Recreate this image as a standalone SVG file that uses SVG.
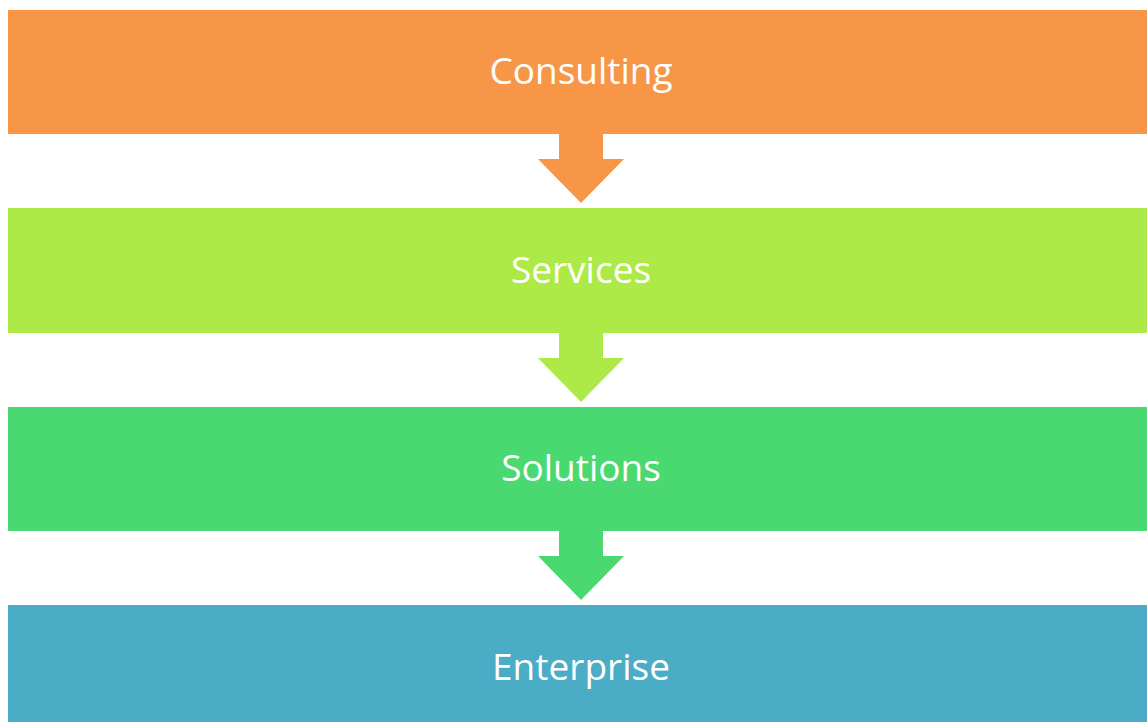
<svg xmlns="http://www.w3.org/2000/svg" width="1147" height="722" viewBox="0 0 1147 722">
<style>
.lbl{font-family:"Open Sans","Liberation Sans",sans-serif;font-size:37px;fill:#ffffff;text-anchor:middle}
</style>
<rect width="1147" height="722" fill="#ffffff"/>
<g id="connectors">
<path d="M559,130 H603 V159 H624 L581,203 L538,159 H559 Z" fill="#F79646"/>
<path d="M559,328 H603 V358 H624 L581,402 L538,358 H559 Z" fill="#ADEA48"/>
<path d="M559,527 H603 V556 H624 L581,600 L538,556 H559 Z" fill="#49D970"/>
</g>
<g id="consulting">
<rect x="8" y="10" width="1150" height="124" fill="#F79646"/>
<text class="lbl" x="581" y="84">Consulting</text>
</g>
<g id="services">
<rect x="8" y="208" width="1150" height="125" fill="#ADEA48"/>
<text class="lbl" x="581" y="283">Services</text>
</g>
<g id="solutions">
<rect x="8" y="407" width="1150" height="124" fill="#49D970"/>
<text class="lbl" x="581" y="481">Solutions</text>
</g>
<g id="enterprise">
<rect x="8" y="605" width="1150" height="130" fill="#4BACC6"/>
<text class="lbl" x="581" y="680">Enterprise</text>
</g>
</svg>
